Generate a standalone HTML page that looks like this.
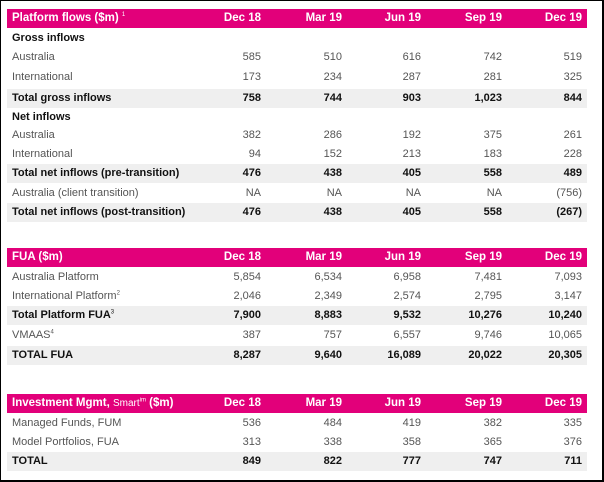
<!DOCTYPE html>
<html><head><meta charset="utf-8"><style>
body{margin:0;width:604px;height:482px;background:#fff;overflow:hidden;font-family:"Liberation Sans",sans-serif;}
#frame{position:absolute;left:0;top:0;width:601px;height:479px;border:1px solid #000;border-right:2px solid #000;border-bottom:2px solid #000;}
.row{position:absolute;left:7px;width:580px;height:19px;font-size:11px;line-height:19px;color:#555;}
.hdr{background:#e2007a;color:#fff;font-weight:bold;font-size:11.5px;}
.gray{background:#efefef;}
.bold{font-weight:bold;color:#111;}
.lbl{position:absolute;left:5px;white-space:nowrap;}
.c{position:absolute;text-align:right;width:70px;}
.c1{left:184px}.c2{left:265px}.c3{left:344px}.c4{left:425px}.c5{left:505px}
sup{font-size:6px;line-height:0;}
</style></head><body>
<div id="frame"></div>
<div id="t"></div>
<script>
const rows=[
 [9,'h','Platform flows ($m) <sup style="font-weight:normal">1</sup>',['Dec 18','Mar 19','Jun 19','Sep 19','Dec 19']],
 [29,'s','Gross inflows',null],
 [48,'n','Australia',['585','510','616','742','519']],
 [68,'n','International',['173','234','287','281','325']],
 [89,'t','Total gross inflows',['758','744','903','1,023','844']],
 [108,'s','Net inflows',null],
 [126,'n','Australia',['382','286','192','375','261']],
 [145,'n','International',['94','152','213','183','228']],
 [164,'t','Total net inflows (pre-transition)',['476','438','405','558','489']],
 [184,'n','Australia (client transition)',['NA','NA','NA','NA','(756)']],
 [203,'t','Total net inflows (post-transition)',['476','438','405','558','(267)']],
 [248,'h','FUA ($m)',['Dec 18','Mar 19','Jun 19','Sep 19','Dec 19']],
 [268,'n','Australia Platform',['5,854','6,534','6,958','7,481','7,093']],
 [287,'n','International Platform<sup>2</sup>',['2,046','2,349','2,574','2,795','3,147']],
 [306,'t','Total Platform FUA<sup style="font-weight:normal">3</sup>',['7,900','8,883','9,532','10,276','10,240']],
 [326,'n','VMAAS<sup>4</sup>',['387','757','6,557','9,746','10,065']],
 [346,'t','TOTAL FUA',['8,287','9,640','16,089','20,022','20,305']],
 [394,'h','Investment Mgmt, <span style="font-weight:normal;font-size:10px">Smart<sup>im</sup></span> ($m)',['Dec 18','Mar 19','Jun 19','Sep 19','Dec 19']],
 [414,'n','Managed Funds, FUM',['536','484','419','382','335']],
 [433,'n','Model Portfolios, FUA',['313','338','358','365','376']],
 [452,'t','TOTAL',['849','822','777','747','711']]
];
const t=document.getElementById('t');
rows.forEach((r,i)=>{
 const d=document.createElement('div');
 d.className='row'+(r[1]==='h'?' hdr':r[1]==='t'?' gray bold':r[1]==='s'?' bold':'');
 d.style.top=r[0]+'px';
 
 
 let h='<span class="lbl">'+r[2]+'</span>';
 if(r[3]) r[3].forEach((v,j)=>{h+='<span class="c c'+(j+1)+'">'+v+'</span>';});
 d.innerHTML=h;
 t.appendChild(d);
});
</script>
</body></html>
